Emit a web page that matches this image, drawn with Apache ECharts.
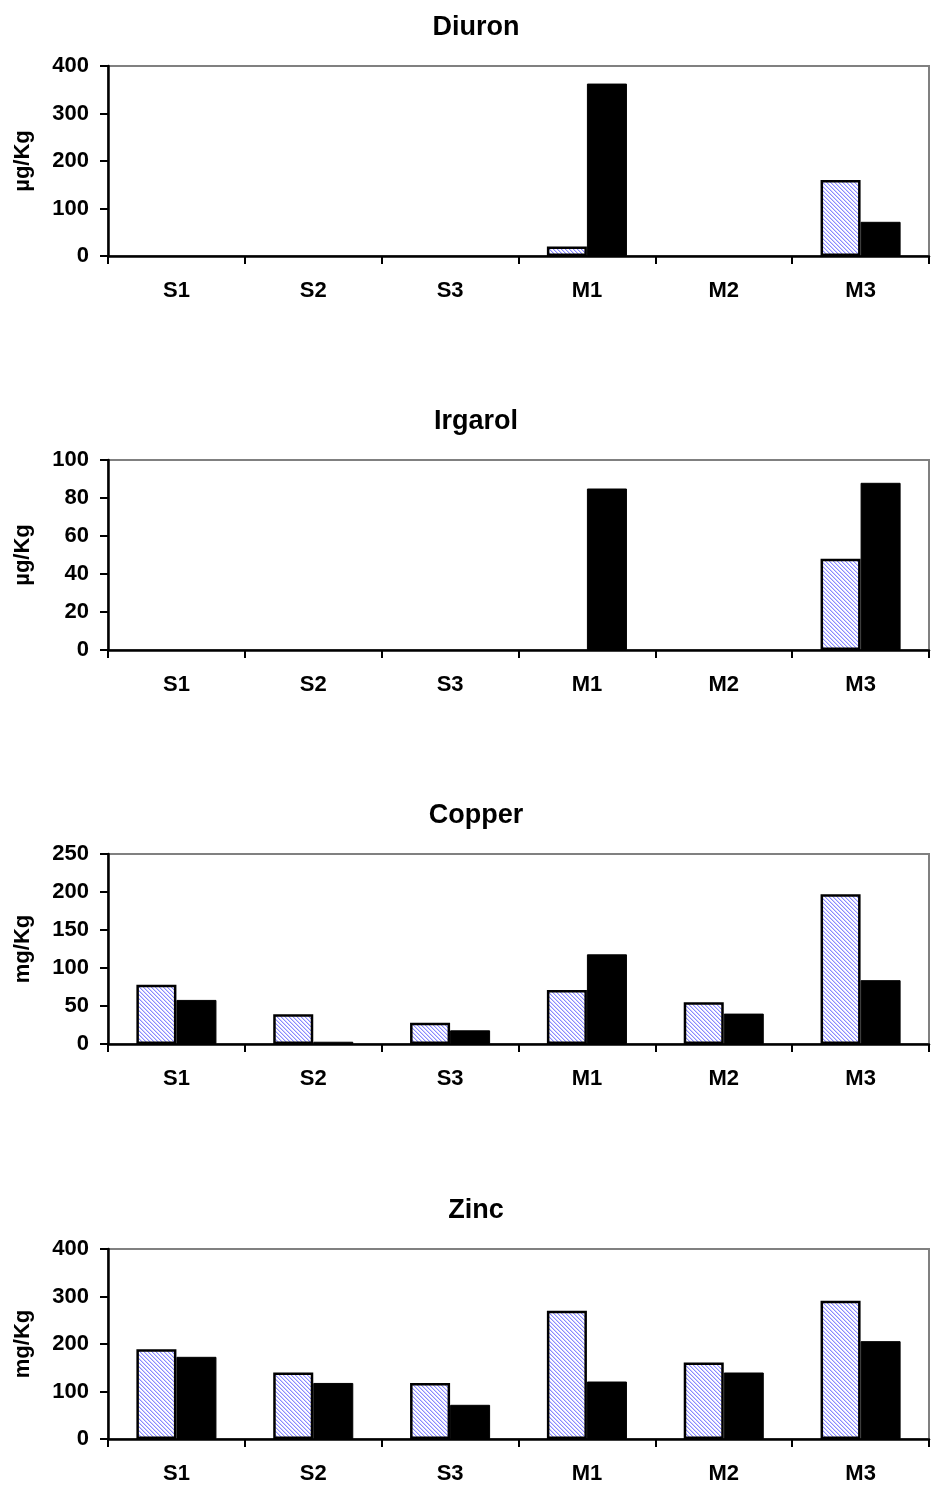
<!DOCTYPE html>
<html>
<head>
<meta charset="utf-8">
<script src="https://cdn.jsdelivr.net/npm/echarts@6/dist/echarts.min.js"></script>
<style>
html,body{margin:0;padding:0;background:#fff;}
#chart{width:932px;height:1488px;}
</style>
</head>
<body>
<div id="chart"></div>
<script>
// ---- data ----
var categories = ['S1', 'S2', 'S3', 'M1', 'M2', 'M3'];
var panelTitles = ['Diuron', 'Irgarol', 'Copper', 'Zinc'];
var unitLabels = ['µg/Kg', 'µg/Kg', 'mg/Kg', 'mg/Kg'];
var axisMax = [400, 100, 250, 400];
var axisStep = [100, 20, 50, 100];

var diuronHatched = [0, 0, 0, 20, 0, 160];
var diuronBlack   = [0, 0, 0, 363, 0, 72];
var irgarolHatched = [0, 0, 0, 0, 0, 48];
var irgarolBlack   = [0, 0, 0, 85, 0, 88];
var copperHatched = [78, 39, 28, 71, 55, 197];
var copperBlack   = [58, 3, 18, 118, 40, 84];
var zincHatched = [189, 140, 118, 270, 161, 291];
var zincBlack   = [173, 118, 72, 121, 140, 206];

var hatchedSets = [diuronHatched, irgarolHatched, copperHatched, zincHatched];
var blackSets = [diuronBlack, irgarolBlack, copperBlack, zincBlack];

// ---- hatch pattern ----
var pc = document.createElement('canvas');
pc.width = 4; pc.height = 4;
var pctx = pc.getContext('2d');
pctx.fillStyle = '#ffffff';
pctx.fillRect(0, 0, 4, 4);
for (var i = 0; i < 4; i++) {
  pctx.fillStyle = '#8a8aff';
  pctx.fillRect(i, i, 1, 1);
  pctx.fillStyle = '#cfcfff';
  pctx.fillRect((i + 1) % 4, i, 1, 1);
}

function toItems(arr) {
  return arr.map(function (v) {
    return v === 0 ? { value: v, itemStyle: { borderWidth: 0 } } : v;
  });
}

var FONT = 'Liberation Sans, Arial, sans-serif';
var tops = [66, 460, 854, 1249];
var titleTops = [9, 403, 797, 1192];

var grids = [], xAxes = [], yAxes = [], series = [], titles = [];
for (var k = 0; k < 4; k++) {
  grids.push({
    left: 108, right: 3, top: tops[k], height: 190,
    show: true, borderColor: '#808080', borderWidth: 2, backgroundColor: 'transparent'
  });
  titles.push({
    text: panelTitles[k], left: 471, top: titleTops[k], textAlign: 'center',
    textStyle: { fontFamily: FONT, fontWeight: 'bold', fontSize: 27, color: '#000' }
  });
  xAxes.push({
    type: 'category', gridIndex: k, data: categories,
    axisLine: { lineStyle: { color: '#000', width: 2.5 } },
    axisTick: { show: true, length: 8, lineStyle: { color: '#000', width: 2 } },
    axisLabel: { margin: 24, fontFamily: FONT, fontWeight: 'bold', fontSize: 22, color: '#000' },
    splitLine: { show: false }
  });
  yAxes.push({
    type: 'value', gridIndex: k, min: 0, max: axisMax[k], interval: axisStep[k],
    name: unitLabels[k], nameLocation: 'middle', nameGap: 74, nameRotate: 90,
    nameTextStyle: { fontFamily: FONT, fontWeight: 'bold', fontSize: 22, color: '#000' },
    axisLine: { show: true, lineStyle: { color: '#000', width: 2.5 } },
    axisTick: { show: true, length: 8, lineStyle: { color: '#000', width: 2 } },
    axisLabel: { margin: 19, fontFamily: FONT, fontWeight: 'bold', fontSize: 22, color: '#000' },
    splitLine: { show: false }
  });
  series.push({
    type: 'bar', xAxisIndex: k, yAxisIndex: k, data: toItems(hatchedSets[k]),
    barGap: '0%', barCategoryGap: '41.5%',
    itemStyle: { color: { image: pc, repeat: 'repeat' }, borderColor: '#000', borderWidth: 2.5 },
    z: 1, silent: true, animation: false
  });
  series.push({
    type: 'bar', xAxisIndex: k, yAxisIndex: k, data: toItems(blackSets[k]),
    barGap: '0%', barCategoryGap: '41.5%',
    itemStyle: { color: '#000', borderColor: '#000', borderWidth: 1 },
    z: 1, silent: true, animation: false
  });
}

var chart = echarts.init(document.getElementById('chart'), null, { renderer: 'canvas' });
chart.setOption({
  backgroundColor: '#fff',
  animation: false,
  title: titles,
  grid: grids,
  xAxis: xAxes,
  yAxis: yAxes,
  series: series
});
</script>
</body>
</html>
